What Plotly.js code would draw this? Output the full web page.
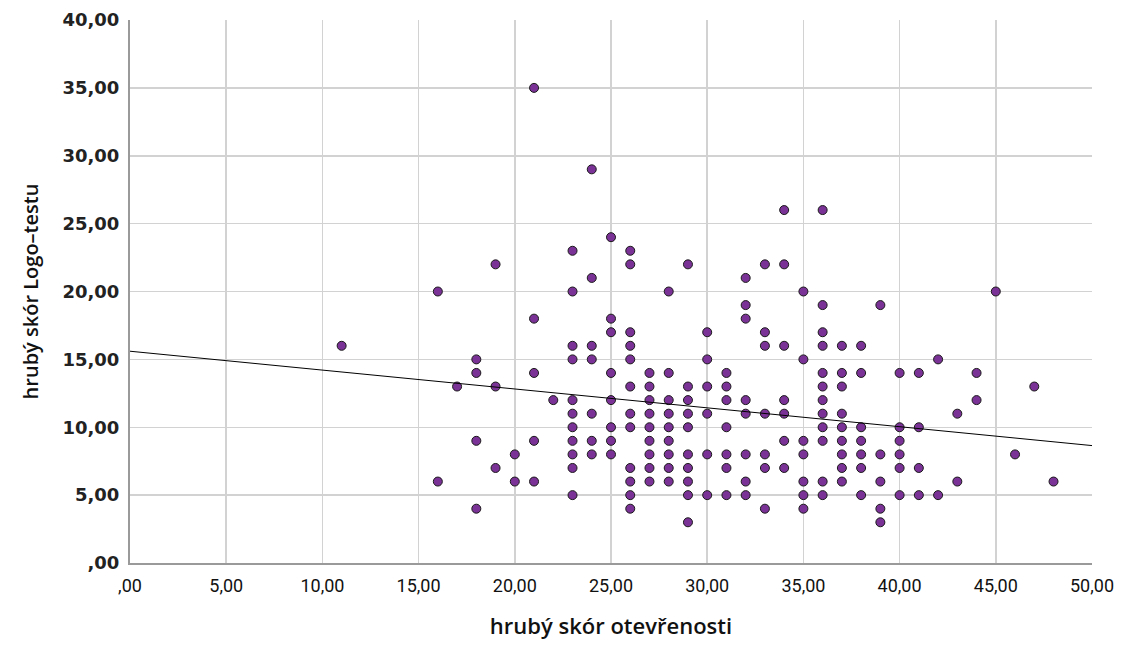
<!DOCTYPE html>
<html>
<head>
<meta charset="utf-8">
<script src="https://cdn.plot.ly/plotly-3.0.1.min.js"></script>
<style>html,body{margin:0;padding:0;background:#fff;}#chart{width:1133px;height:646px;}</style>
</head>
<body>
<div id="chart"></div>
<script>
// Data: openness raw score (x) and Logo-test raw score (y), grouped by x value
const xValues = [11,16,17,18,19,20,21,22,23,24,25,26,27,28,29,30,31,32,33,34,35,36,37,38,39,40,41,42,43,44,45,46,47,48];
const yByX = [
  [16],
  [20,6],
  [13],
  [15,14,9,4],
  [22,13,7],
  [8,6],
  [35,18,14,9,6],
  [12],
  [23,20,16,15,12,11,10,9,8,7,5],
  [29,21,16,15,11,9,8],
  [24,18,17,14,12,10,9,8],
  [23,22,17,16,15,13,11,10,7,6,5,4],
  [14,13,12,11,10,9,8,7,6],
  [20,14,12,11,10,9,8,7,6],
  [22,13,12,11,10,8,7,6,5,3],
  [17,15,13,11,8,5],
  [14,13,12,10,8,7,5],
  [21,19,18,12,11,8,6,5],
  [22,17,16,11,8,7,4],
  [26,22,16,12,11,9,7],
  [20,15,9,8,6,5,4],
  [26,19,17,16,14,13,12,11,10,9,6,5],
  [16,14,13,11,10,9,8,7,6],
  [16,14,10,9,8,7,5],
  [19,8,6,4,3],
  [14,10,9,8,7,5],
  [14,10,7,5],
  [15,5],
  [11,6],
  [14,12],
  [20],
  [8],
  [13],
  [6]
];
// fit line (total-sample linear fit)
const fitX = [0, 50];
const fitY = [15.6, 8.65];

const tickVals = [0,5,10,15,20,25,30,35,40,45,50];
const xTickText = [",00","5,00","10,00","15,00","20,00","25,00","30,00","35,00","40,00","45,00","50,00"];
const yTickVals = [0,5,10,15,20,25,30,35,40];
const yTickText = [",00","5,00","10,00","15,00","20,00","25,00","30,00","35,00","40,00"];
const xTitle = "hrubý skór otevřenosti";
const yTitle = "hrubý skór Logo–testu";

const xs = [], ys = [];
xValues.forEach((xv, i) => yByX[i].forEach(yv => { xs.push(xv); ys.push(yv); }));

const traces = [
  {x: xs, y: ys, type: 'scatter', mode: 'markers',
   marker: {color: '#7b3296', size: 9, line: {color: '#1a1a1a', width: 1}},
   showlegend: false},
  {x: fitX, y: fitY, type: 'scatter', mode: 'lines',
   line: {color: '#000', width: 1}, showlegend: false}
];

const layout = {
  width: 1133, height: 646,
  margin: {l: 130, r: 41, t: 20, b: 83},
  paper_bgcolor: '#fff', plot_bgcolor: '#fff',
  showlegend: false,
  xaxis: {
    range: [0, 50], tickvals: tickVals, ticktext: xTickText,
    showgrid: true, gridcolor: '#d2d2d2', gridwidth: 1.5,
    zeroline: false, showline: true, linecolor: '#9a9a9a', linewidth: 2,
    ticks: '', ticklabelstandoff: 5,
    tickfont: {family: "Roboto, sans-serif", size: 18, color: '#111'},
    title: {text: xTitle, font: {family: "'Open Sans', sans-serif", size: 22, color: '#111', weight: 600}, standoff: 24}
  },
  yaxis: {
    range: [0, 40], tickvals: yTickVals, ticktext: yTickText,
    showgrid: true, gridcolor: '#d2d2d2', gridwidth: 1.5,
    zeroline: false, showline: true, linecolor: '#9a9a9a', linewidth: 2,
    ticks: '', ticklabelstandoff: 5,
    tickfont: {family: "'DejaVu Sans', Verdana, sans-serif", size: 18, color: '#222', weight: 'bold'},
    title: {text: yTitle, font: {family: "'Open Sans', sans-serif", size: 20, color: '#111', weight: 600}, standoff: 18}
  }
};

Plotly.newPlot('chart', traces, layout, {displayModeBar: false, staticPlot: true});
</script>
</body>
</html>
